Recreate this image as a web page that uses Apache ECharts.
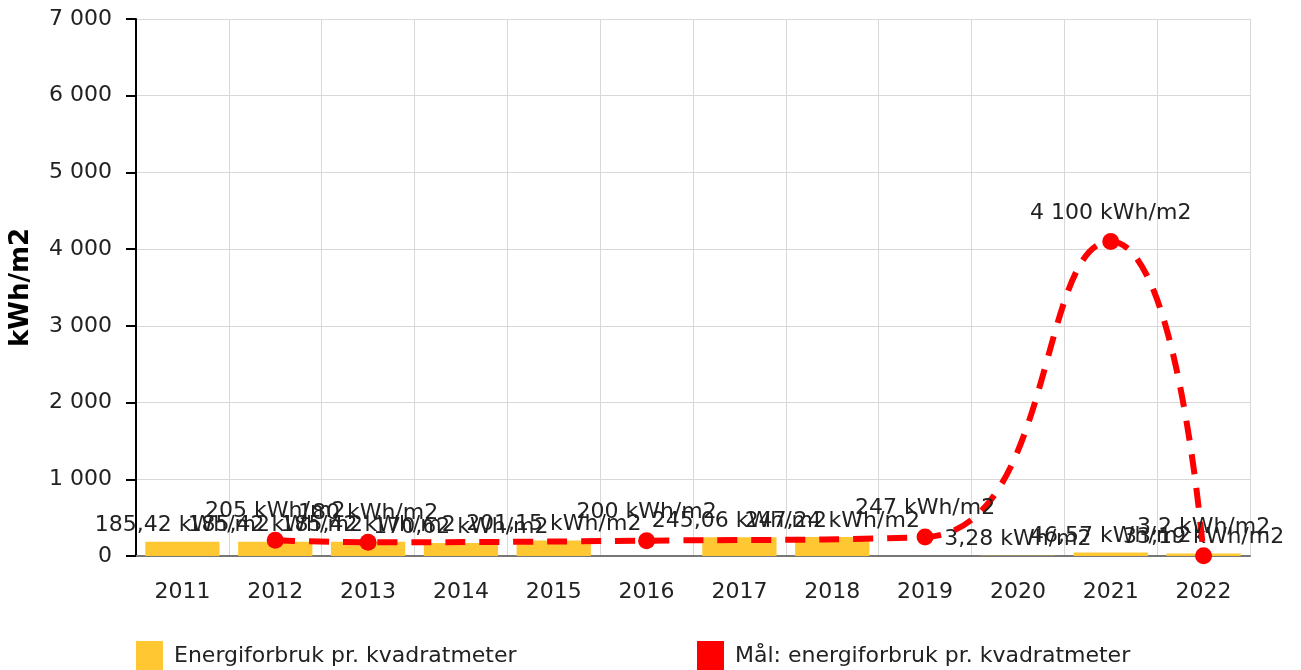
<!DOCTYPE html>
<html>
<head>
<meta charset="utf-8">
<script src="https://cdn.jsdelivr.net/npm/echarts@6/dist/echarts.min.js"></script>
<style>
html,body{margin:0;padding:0;background:#fff;}
#chart{width:1301px;height:670px;}
</style>
</head>
<body>
<div id="chart"></div>
<script>
var years = ['2011','2012','2013','2014','2015','2016','2017','2018','2019','2020','2021','2022'];
// energiforbruk pr. kvadratmeter ('-' = ingen verdi)
var forbruk = [185.42, 185.42, 185.42, 170.62, 201.15, '-', 245.06, 247.24, '-', 3.28, 46.57, 33.19];
// mål
var maal = ['-', 205, 180, '-', '-', 200, '-', '-', 247, '-', 4100, 3.2];
var yTicks = [0, 1000, 2000, 3000, 4000, 5000, 6000, 7000];

var fontName = 'DejaVu Sans';

function fmtNum(v){
	var s = String(v).split('.');
	var i = s[0].replace(/\B(?=(\d{3})+(?!\d))/g, ' ');
	return s.length > 1 ? i + ',' + s[1] : i;
}

var myChart = echarts.init(document.getElementById('chart'));
var option = {
	animation: false,
	textStyle: {fontFamily: fontName},
	grid: {left: 136, right: 51, top: 19, bottom: 114, outerBoundsMode: 'none'},
	legend: [
		{
			left: 136, top: 641, padding: 0,
			itemWidth: 27, itemHeight: 30,
			icon: 'rect',
			textStyle: {fontFamily: fontName, fontSize: 22, color: '#222', padding: [0, 0, 0, 6]},
			data: ['Energiforbruk pr. kvadratmeter']
		},
		{
			left: 697, top: 641, padding: 0,
			itemWidth: 27, itemHeight: 30,
			icon: 'rect',
			textStyle: {fontFamily: fontName, fontSize: 22, color: '#222', padding: [0, 0, 0, 6]},
			data: ['Mål: energiforbruk pr. kvadratmeter']
		}
	],
	xAxis: {
		type: 'category',
		data: years,
		boundaryGap: true,
		axisLine: {lineStyle: {color: '#777', width: 2}},
		axisTick: {alignWithLabel: true, length: 10, lineStyle: {color: '#aaa', width: 2}},
		axisLabel: {fontFamily: fontName, fontSize: 22, color: '#222', margin: 25},
		splitLine: {show: true, lineStyle: {color: '#d8d8d8', width: 1}}
	},
	yAxis: {
		type: 'value',
		min: yTicks[0],
		max: yTicks[yTicks.length - 1],
		interval: 1000,
		name: 'kWh/m2',
		nameLocation: 'middle',
		nameGap: 102,
		nameTextStyle: {fontFamily: fontName, fontSize: 26, fontWeight: 'bold', color: '#000'},
		axisLine: {show: true, lineStyle: {color: '#000', width: 2}},
		axisTick: {show: true, length: 10, lineStyle: {color: '#000', width: 2}},
		axisLabel: {fontFamily: fontName, fontSize: 22, color: '#222', margin: 24, formatter: fmtNum},
		splitLine: {lineStyle: {color: '#d8d8d8', width: 1}}
	},
	series: [
		{
			name: 'Energiforbruk pr. kvadratmeter',
			type: 'bar',
			data: forbruk,
			barWidth: '80%',
			itemStyle: {color: '#FFC832'},
			label: {
				show: true, position: 'top', distance: 5,
				fontFamily: fontName, fontSize: 22, color: '#222',
				formatter: function(p){ return fmtNum(p.value) + ' kWh/m2'; }
			}
		},
		{
			name: 'Mål: energiforbruk pr. kvadratmeter',
			type: 'line',
			data: maal,
			connectNulls: true,
			smooth: 0.5,
			symbol: 'circle',
			symbolSize: 17,
			itemStyle: {color: '#FF0000'},
			lineStyle: {color: '#FF0000', width: 6, type: [20, 14]},
			label: {
				show: true, position: 'top', distance: 9,
				fontFamily: fontName, fontSize: 22, color: '#222',
				formatter: function(p){ return fmtNum(p.value) + ' kWh/m2'; }
			}
		}
	]
};
myChart.setOption(option);
</script>
</body>
</html>
